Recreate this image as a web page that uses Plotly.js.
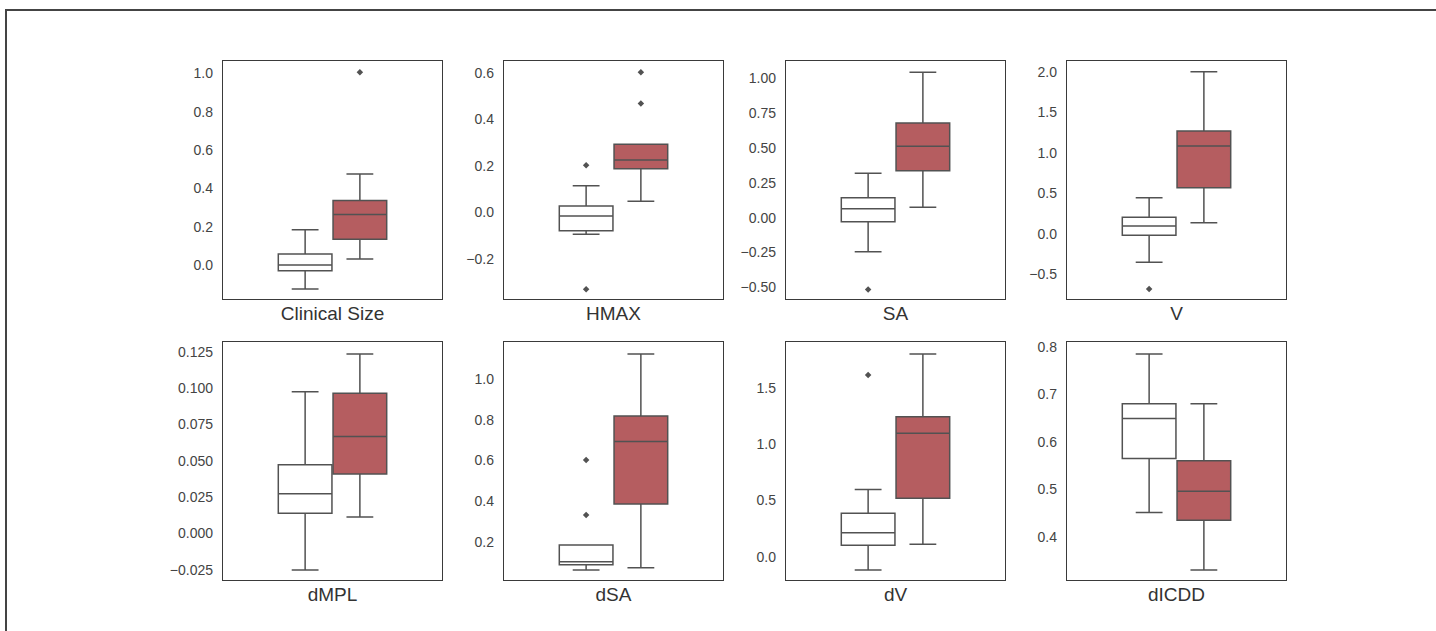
<!DOCTYPE html>
<html>
<head>
<meta charset="utf-8">
<script src="https://cdn.plot.ly/plotly-3.0.1.min.js"></script>
<style>
  html, body { margin: 0; padding: 0; background: #fff; }
  #wrap { position: relative; width: 1436px; height: 631px; overflow: hidden; }
  #chart { position: absolute; left: 0; top: 0; width: 1436px; height: 631px; }
  #frame { position: absolute; left: 5px; top: 9px; width: 1500px; height: 700px;
           border-left: 2px solid #444; border-top: 2px solid #444; pointer-events: none; }
</style>
</head>
<body>
<div id="wrap">
  <div id="chart"></div>
  <div id="frame"></div>
</div>
<script>
// ---- data ----
const categories = ["Clinical Size", "HMAX", "SA", "V", "dMPL", "dSA", "dV", "dICDD"];

// white group
const q1A  = [-0.030, -0.080, -0.029, -0.021, 0.0139, 0.090, 0.101, 0.565];
const medA = [ 0.000, -0.016,  0.064,  0.094, 0.0274, 0.105, 0.213, 0.649];
const q3A  = [ 0.058,  0.027,  0.143,  0.202, 0.0473, 0.187, 0.385, 0.680];
const loA  = [-0.125, -0.095, -0.245, -0.356, -0.025, 0.064, -0.118, 0.451];
const hiA  = [ 0.184,  0.114,  0.318,  0.445, 0.0975, 0.187, 0.595, 0.785];
const outA = [[], [0.203, -0.332], [-0.515], [-0.687], [], [0.603, 0.333], [1.612], []];

// red group
const q1B  = [0.134, 0.188, 0.337, 0.569, 0.0409, 0.387, 0.518, 0.435];
const medB = [0.264, 0.225, 0.512, 1.086, 0.0666, 0.693, 1.095, 0.496];
const q3B  = [0.337, 0.293, 0.679, 1.271, 0.0964, 0.818, 1.242, 0.560];
const loB  = [0.031, 0.047, 0.074, 0.135, 0.0114, 0.075, 0.110, 0.330];
const hiB  = [0.475, 0.293, 1.043, 2.006, 0.1234, 1.122, 1.799, 0.680];
const outB = [[1.005], [0.603, 0.469], [], [], [], [], [], []];

// y tick settings per panel
const yTick0   = [0, -0.2, -0.5, -0.5, -0.025, 0.2, 0, 0.4];
const yDtick   = [0.2, 0.2, 0.25, 0.5, 0.025, 0.2, 0.5, 0.1];
const yFormat  = [".1f", ".1f", ".2f", ".1f", ".3f", ".1f", ".1f", ".1f"];
const yRanges  = [[-0.177, 1.064], [-0.374, 0.652], [-0.584, 1.124], [-0.810, 2.139],
                  [-0.0319, 0.1316], [0.015, 1.181], [-0.207, 1.905], [0.309, 0.810]];

// ---- layout geometry ----
const W = 1436, H = 631;
const colPx = [[223, 442], [504, 723], [786, 1005], [1067, 1286]];
const rowPx = [[61, 299], [342, 580]];

const lineColor = "#525252";
const redFill = "#b55d60";
const font = "Liberation Sans, Arial, sans-serif";

const traces = [];
const layout = {
  width: W, height: H,
  margin: {l: 0, r: 0, t: 0, b: 0},
  paper_bgcolor: "#fff", plot_bgcolor: "#fff",
  showlegend: false,
  boxmode: "group",
  boxgap: 0.5,
  boxgroupgap: 0.02,
  font: {family: font, color: "#333"}
};

function boxTrace(common, name, fill, q1, med, q3, lo, hi, out) {
  const t = Object.assign({}, common, {
    name: name, offsetgroup: name, fillcolor: fill,
    q1: [q1], median: [med], q3: [q3], lowerfence: [lo], upperfence: [hi]
  });
  if (out.length) { t.y = [out]; t.boxpoints = "outliers"; } else { t.boxpoints = false; }
  return t;
}

categories.forEach((cat, i) => {
  const n = i + 1;
  const xa = n === 1 ? "x" : "x" + n;
  const ya = n === 1 ? "y" : "y" + n;
  const common = {
    type: "box", orientation: "v", xaxis: xa, yaxis: ya,
    x: [cat], pointpos: 0, jitter: 0,
    whiskerwidth: 0.5,
    line: {color: lineColor, width: 1.5},
    marker: {symbol: "diamond", size: 5, color: lineColor, line: {width: 0}},
    hoverinfo: "y"
  };
  traces.push(boxTrace(common, "A", "#ffffff", q1A[i], medA[i], q3A[i], loA[i], hiA[i], outA[i]));
  traces.push(boxTrace(common, "B", redFill, q1B[i], medB[i], q3B[i], loB[i], hiB[i], outB[i]));

  const c = colPx[i % 4], r = rowPx[Math.floor(i / 4)];
  const axLine = {showline: true, mirror: true, linecolor: "#3a3a3a", linewidth: 1.2,
                  showgrid: false, zeroline: false, ticks: ""};
  layout[n === 1 ? "xaxis" : "xaxis" + n] = Object.assign({}, axLine, {
    domain: [c[0] / W, c[1] / W], anchor: ya, type: "category",
    range: [-0.5, 0.5], fixedrange: true,
    tickfont: {family: font, size: 19, color: "#333"},
    ticklabelstandoff: -3
  });
  layout[n === 1 ? "yaxis" : "yaxis" + n] = Object.assign({}, axLine, {
    domain: [1 - r[1] / H, 1 - r[0] / H], anchor: xa,
    range: yRanges[i], tick0: yTick0[i], dtick: yDtick[i], tickformat: yFormat[i],
    tickfont: {family: font, size: 14, color: "#444"},
    ticklabelstandoff: 6
  });
});

Plotly.newPlot("chart", traces, layout, {displayModeBar: false, staticPlot: true});
</script>
</body>
</html>
